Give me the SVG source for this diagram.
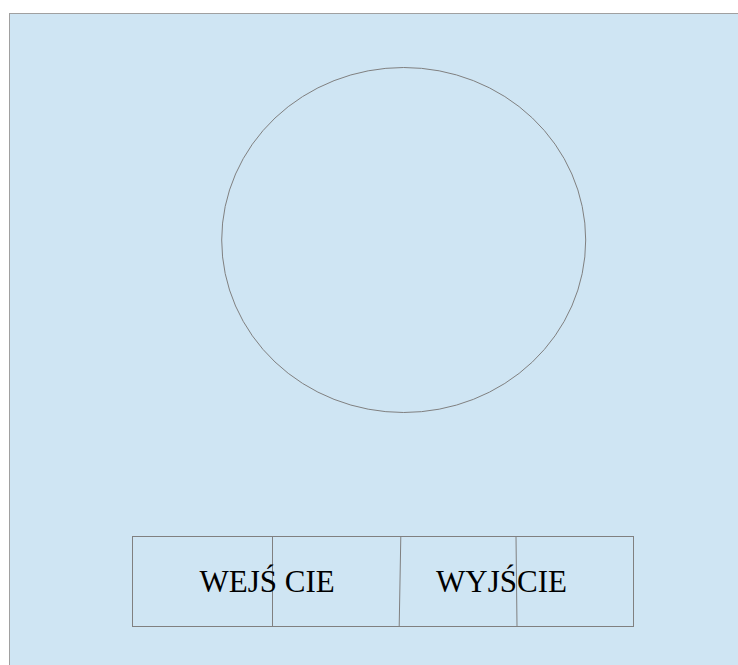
<svg xmlns="http://www.w3.org/2000/svg" width="738" height="665" viewBox="0 0 738 665">
<style>
.ln{fill:none;stroke:#808080;stroke-width:1}
.t{font-family:"Liberation Serif","Times New Roman",serif;font-size:31px;fill:#000}
</style>
<rect x="0" y="0" width="738" height="665" fill="#ffffff"/>
<rect id="bg" x="9.5" y="13.5" width="740" height="660" fill="#cfe5f3" stroke="#a0a0a0" stroke-width="1"/>
<g id="circle">
<ellipse class="ln" cx="403.7" cy="240" rx="182" ry="172.5"/>
</g>
<g id="box">
<rect class="ln" x="132.5" y="536.5" width="501" height="90"/>
</g>
<g id="connectors">
<line class="ln" x1="272.5" y1="536.5" x2="272.5" y2="626.5"/>
<line class="ln" x1="400.8" y1="536.5" x2="399.2" y2="626.5"/>
<line class="ln" x1="516" y1="536.5" x2="517" y2="626.5"/>
</g>
<g id="label1"><text class="t" x="199.5" y="592.3">WEJŚ CIE</text></g>
<g id="label2"><text class="t" x="436" y="592.3">WYJŚCIE</text></g>
</svg>
